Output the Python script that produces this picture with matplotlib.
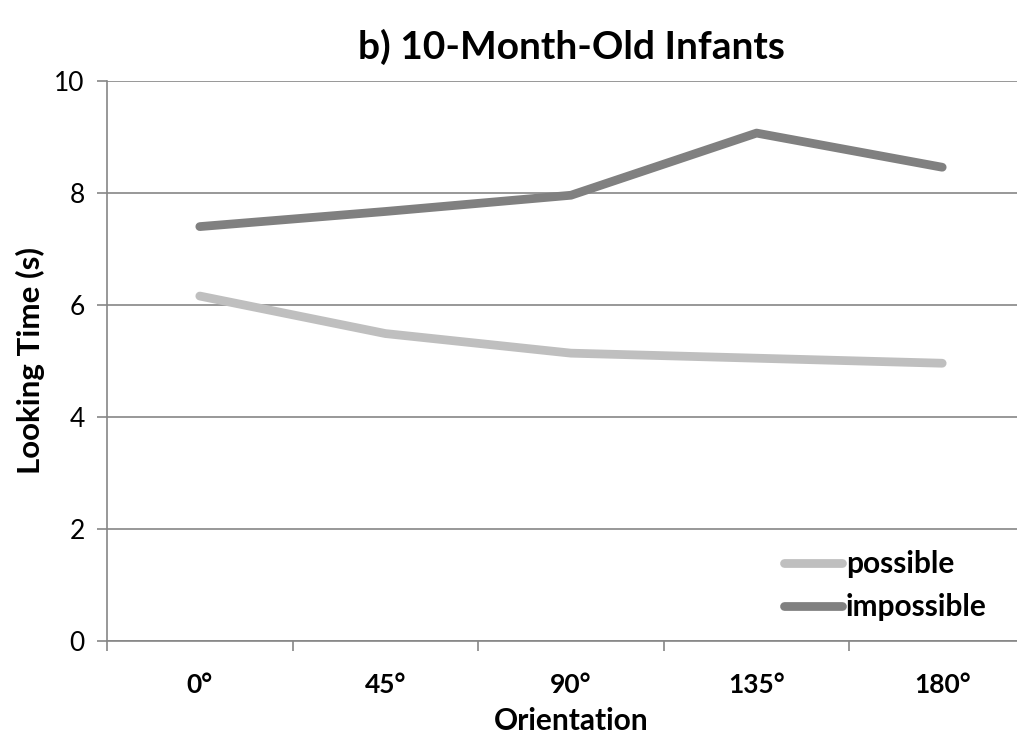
import matplotlib
matplotlib.use("Agg")
import matplotlib.pyplot as plt
import numpy as np

plt.rcParams['font.family'] = ['Lato', 'DejaVu Sans']

orientations = ['0°', '45°', '90°', '135°', '180°']
possible = [6.16, 5.49, 5.14, 5.05, 4.96]
impossible = [7.40, 7.67, 7.96, 9.07, 8.46]

fig = plt.figure(figsize=(10.17, 7.4), dpi=100)
ax = fig.add_axes([107 / 1017, 99 / 740, 928 / 1017, 560 / 740])

x = np.arange(len(orientations))
ax.plot(x, possible, color='#bfbfbf', lw=6.3, solid_capstyle='round', solid_joinstyle='round', label='possible')
ax.plot(x, impossible, color='#808080', lw=6.3, solid_capstyle='round', solid_joinstyle='round', label='impossible')

ax.set_xlim(-0.5, len(orientations) - 0.5)
ax.set_ylim(0, 10)
ax.set_yticks([0, 2, 4, 6, 8, 10])
ax.yaxis.grid(True, color='#868686', lw=1.2)
ax.set_axisbelow(True)

ax.set_xticks(x)
ax.set_xticklabels(orientations, fontsize=19, fontweight='bold')
ax.set_xticks(np.arange(-0.5, len(orientations), 1.0), minor=True)
ax.tick_params(axis='x', which='major', length=0, pad=23)
ax.tick_params(axis='x', which='minor', length=7, width=1.2, color='#868686', direction='out')
ax.tick_params(axis='y', length=7, width=1.2, color='#868686', labelsize=19, pad=9)

for side in ['top', 'right']:
    ax.spines[side].set_visible(False)
ax.spines['left'].set_color('#868686')
ax.spines['left'].set_linewidth(1.2)
ax.spines['bottom'].set_color('#868686')
ax.spines['bottom'].set_linewidth(1.2)

ax.set_xlabel('Orientation', fontsize=21.5, fontweight='bold', labelpad=7)
ax.set_ylabel('Looking Time (s)', fontsize=22.5, fontweight='bold', labelpad=7)
ax.set_title('b) 10-Month-Old Infants', fontsize=28, fontweight='bold', pad=16)

leg = ax.legend(loc='lower left', bbox_to_anchor=(650 / 928, -0.013), frameon=False,
                prop={'size': 21.5, 'weight': 'bold'}, handlelength=1.95, handletextpad=0.12,
                labelspacing=0.5)

fig.savefig('out.png', dpi=100)
